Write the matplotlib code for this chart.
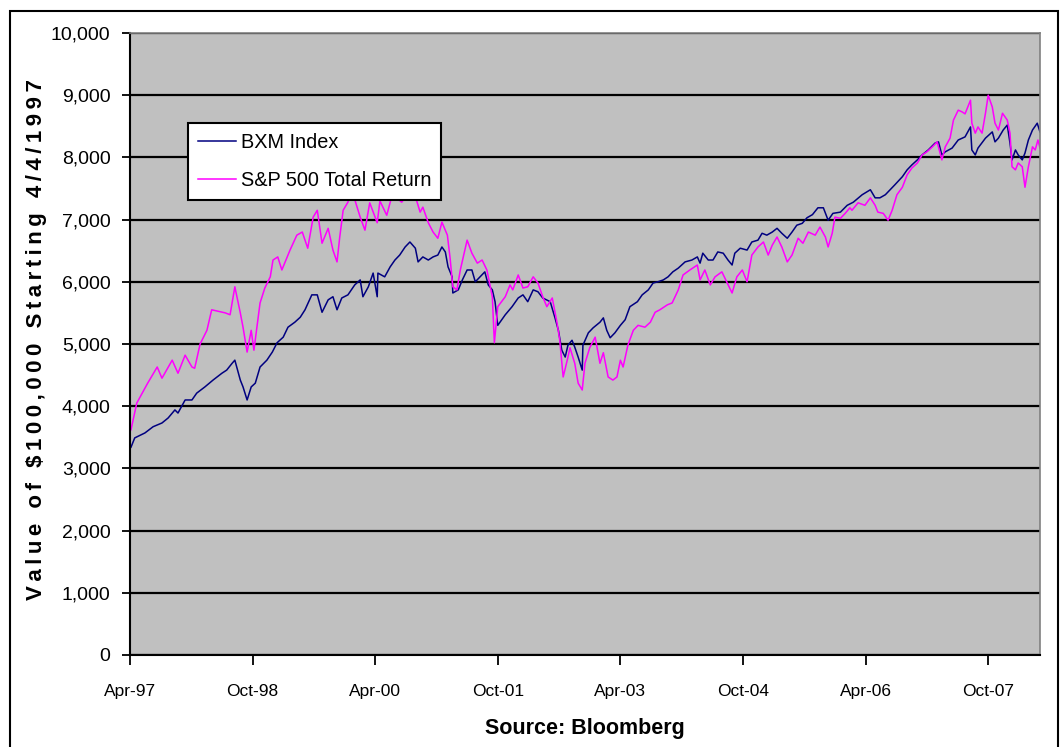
import matplotlib
matplotlib.use("Agg")
import matplotlib.pyplot as plt
from matplotlib.patches import Rectangle
from matplotlib.ticker import FuncFormatter

plt.rcParams['font.family'] = ['Liberation Sans', 'DejaVu Sans']

# months since 4/4/1997, values of $100,000 invested
bxm_months = [0.15, 0.7, 2.2, 3.4, 4.7, 5.6, 6.6, 7.05, 8.1, 9.1,
              9.8, 11.0, 12.2, 13.5, 14.2, 15.0, 15.4, 16.2, 16.6, 17.2,
              17.8, 18.4, 19.1, 20.1, 20.9, 21.6, 22.5, 23.2, 24.2, 25.0,
              25.7, 26.7, 27.5, 28.2, 29.1, 29.8, 30.4, 31.1, 32.0, 33.0,
              33.8, 34.2, 35.0, 35.7, 36.3, 36.4, 37.4, 38.2, 38.9, 39.6,
              40.4, 41.1, 41.9, 42.3, 43.0, 43.8, 44.5, 45.2, 45.8, 46.3,
              46.7, 47.3, 47.4, 48.2, 48.8, 49.5, 50.2, 50.7, 51.4, 52.1,
              52.6, 53.2, 53.6, 54.0, 55.1, 56.1, 57.0, 57.7, 58.4, 59.2,
              59.9, 60.6, 61.7, 62.4, 62.9, 63.4, 63.9, 64.3, 64.9, 65.3,
              65.8, 66.4, 66.5, 67.3, 68.0, 69.0, 69.5, 70.0, 70.5, 71.2,
              72.0, 72.7, 73.4, 74.5, 75.2, 76.1, 76.8, 77.5, 78.3, 79.0,
              79.7, 80.5, 81.5, 82.5, 83.3, 83.7, 84.1, 84.9, 85.6, 86.3,
              87.1, 87.8, 88.4, 88.8, 89.6, 90.6, 91.3, 92.2, 92.8, 93.5,
              94.3, 95.0, 95.7, 96.5, 97.2, 97.9, 98.7, 99.4, 100.2, 101.0,
              101.8, 102.5, 103.2, 104.3, 105.3, 106.2, 107.5, 108.7, 109.4, 110.1,
              110.9, 111.6, 112.3, 113.4, 114.1, 114.8, 115.6, 116.3, 117.2, 118.2,
              118.7, 119.2, 119.7, 120.7, 121.6, 122.6, 123.4, 123.6, 124.1, 124.5,
              125.6, 126.6, 127.0, 127.5, 128.2, 128.8, 129.2, 129.5, 130.0, 130.4,
              131.0, 131.4, 131.9, 132.5, 133.2, 133.6]
bxm_values = [3340, 3490, 3570, 3670, 3730, 3810, 3940, 3890, 4100, 4100,
              4210, 4310, 4420, 4530, 4580, 4690, 4740, 4420, 4310, 4100,
              4310, 4370, 4630, 4740, 4870, 5020, 5110, 5270, 5350, 5430,
              5550, 5790, 5790, 5510, 5710, 5760, 5550, 5740, 5790, 5950,
              6030, 5760, 5920, 6140, 5760, 6140, 6080, 6240, 6350, 6430,
              6560, 6640, 6540, 6320, 6400, 6350, 6400, 6430, 6560, 6480,
              6240, 6080, 5820, 5870, 6030, 6190, 6190, 6000, 6080, 6160,
              5950, 5870, 5680, 5300, 5470, 5600, 5740, 5790, 5680, 5870,
              5840, 5740, 5680, 5420, 5220, 4900, 4790, 4980, 5060, 4950,
              4790, 4580, 4980, 5180, 5260, 5350, 5420, 5220, 5100, 5180,
              5300, 5390, 5600, 5680, 5790, 5870, 5980, 6000, 6030, 6080,
              6160, 6220, 6320, 6350, 6400, 6300, 6460, 6350, 6350, 6480,
              6460, 6350, 6270, 6460, 6540, 6510, 6640, 6670, 6780, 6750,
              6800, 6860, 6780, 6700, 6800, 6910, 6940, 7030, 7080, 7190,
              7190, 6990, 7100, 7120, 7230, 7280, 7400, 7480, 7350, 7350,
              7400, 7480, 7560, 7690, 7800, 7880, 7960, 8040, 8120, 8230,
              8250, 8040, 8090, 8150, 8280, 8330, 8490, 8120, 8040, 8150,
              8310, 8410, 8250, 8310, 8440, 8520, 8230, 7960, 8120, 8040,
              7960, 8070, 8280, 8440, 8550, 8410]

sp_months = [0.15, 1.0, 2.6, 4.0, 4.7, 6.2, 7.05, 8.1, 9.1, 9.5,
             10.3, 11.3, 12.0, 14.0, 14.7, 15.4, 16.2, 16.6, 17.2, 17.8,
             18.2, 19.1, 19.8, 20.6, 21.0, 21.7, 22.3, 23.5, 24.5, 25.3,
             26.1, 26.9, 27.5, 28.2, 29.1, 29.8, 30.4, 30.8, 31.3, 32.0,
             32.5, 33.8, 34.5, 35.2, 36.3, 36.7, 37.7, 38.5, 39.9, 41.0,
             42.1, 42.6, 43.0, 43.8, 44.5, 45.2, 45.8, 46.6, 47.0, 47.4,
             48.0, 48.5, 49.5, 50.2, 51.0, 51.7, 52.4, 53.2, 53.5, 54.0,
             55.1, 55.8, 56.2, 57.0, 57.7, 58.4, 59.2, 59.9, 60.6, 61.2,
             62.0, 62.7, 63.1, 63.6, 64.2, 64.6, 65.3, 65.8, 66.4, 66.8,
             67.5, 68.3, 69.0, 69.5, 70.2, 70.9, 71.5, 72.0, 72.4, 73.1,
             73.9, 74.6, 75.6, 76.4, 77.1, 77.8, 78.9, 79.6, 80.5, 81.2,
             82.2, 83.3, 83.7, 84.4, 85.2, 85.9, 86.9, 87.7, 88.4, 89.1,
             89.9, 90.6, 91.3, 92.2, 93.0, 93.7, 94.3, 95.0, 95.7, 96.5,
             97.2, 98.1, 98.8, 99.6, 100.6, 101.3, 102.1, 102.5, 103.1, 103.5,
             104.3, 105.0, 105.7, 106.0, 106.9, 107.9, 108.7, 109.4, 109.8, 110.6,
             111.3, 111.9, 112.6, 113.4, 114.1, 114.8, 115.6, 116.3, 117.0, 117.8,
             118.5, 119.2, 119.7, 120.4, 120.9, 121.6, 122.2, 122.6, 123.4, 123.6,
             124.1, 124.5, 125.1, 125.6, 126.0, 126.6, 127.0, 127.5, 128.1, 128.8,
             129.2, 129.5, 130.0, 130.4, 131.0, 131.4, 131.9, 132.5, 132.9, 133.3,
             133.6]
sp_values = [3620, 4050, 4370, 4630, 4450, 4740, 4530, 4820, 4630, 4610,
             5000, 5220, 5550, 5500, 5470, 5920, 5500, 5270, 4870, 5220,
             4900, 5660, 5900, 6080, 6350, 6400, 6190, 6510, 6750, 6800,
             6540, 7040, 7150, 6620, 6860, 6510, 6320, 6720, 7150, 7280,
             7500, 7040, 6830, 7270, 6950, 7300, 7070, 7400, 7280, 7450,
             7300, 7120, 7200, 6950, 6800, 6700, 6960, 6750, 6380, 5920,
             5870, 6190, 6670, 6460, 6300, 6350, 6190, 5760, 5020, 5600,
             5760, 5950, 5870, 6110, 5900, 5920, 6080, 5980, 5760, 5600,
             5740, 5340, 5060, 4470, 4740, 4940, 4690, 4370, 4260, 4690,
             4940, 5110, 4690, 4860, 4470, 4420, 4470, 4740, 4630, 4980,
             5220, 5300, 5270, 5350, 5510, 5550, 5630, 5660, 5870, 6110,
             6190, 6270, 6030, 6190, 5950, 6080, 6160, 5980, 5820, 6080,
             6190, 6000, 6430, 6560, 6640, 6430, 6590, 6720, 6560, 6320,
             6430, 6700, 6620, 6800, 6750, 6880, 6720, 6560, 6780, 7040,
             7020, 7100, 7190, 7150, 7270, 7230, 7350, 7230, 7120, 7100,
             6990, 7150, 7400, 7520, 7720, 7830, 7910, 8040, 8090, 8170,
             8250, 7960, 8170, 8310, 8600, 8760, 8730, 8700, 8920, 8550,
             8390, 8490, 8390, 8710, 9000, 8810, 8550, 8440, 8710, 8600,
             8390, 7850, 7800, 7910, 7850, 7520, 7850, 8170, 8120, 8280,
             8150]

tick_months = [0, 18, 36, 54, 72, 90, 108, 126]
tick_labels = ['Apr-97', 'Oct-98', 'Apr-00', 'Oct-01', 'Apr-03', 'Oct-04', 'Apr-06', 'Oct-07']

assert len(bxm_months) == len(bxm_values)
assert len(sp_months) == len(sp_values)

fig = plt.figure(figsize=(10.6, 7.47), dpi=100)
ax = fig.add_axes([0.1226, 0.1232, 0.8585, 0.8326])
ax.set_facecolor('#C0C0C0')

ax.plot(bxm_months, bxm_values, color='#000080', lw=1.1, label='BXM Index')
ax.plot(sp_months, sp_values, color='#FF00FF', lw=1.1, label='S&P 500 Total Return')

ax.set_xlim(0, 133.6)
ax.set_ylim(0, 10000)
ax.set_yticks(range(0, 10001, 1000))
ax.yaxis.set_major_formatter(FuncFormatter(lambda v, p: '{:,.0f}'.format(v)))
ax.set_xticks(tick_months)
ax.set_xticklabels(tick_labels)
ax.grid(axis='y', color='black', lw=1.6)
ax.set_axisbelow(True)

ax.tick_params(axis='y', direction='out', length=6, width=1.3, pad=8, labelsize=14)
ax.tick_params(axis='x', direction='out', length=7, width=1.3, pad=14, labelsize=12.5)
for s in ['left', 'bottom']:
    ax.spines[s].set_color('black')
    ax.spines[s].set_linewidth(1.5)
for s in ['top', 'right']:
    ax.spines[s].set_color('#808080')
    ax.spines[s].set_linewidth(1.2)

leg = ax.legend(loc='upper left', bbox_to_anchor=(0.0637, 0.855), borderaxespad=0,
                fontsize=14.3, fancybox=False, framealpha=1, edgecolor='black',
                handlelength=1.9, handletextpad=0.25, labelspacing=0.95,
                borderpad=0.5)
leg.get_frame().set_linewidth(1.5)

ylab = '\u2009'.join(list('Value of $100,000 Starting 4/4/1997'))
fig.text(0.034, 0.545, ylab, rotation=90, ha='center', va='center',
         fontsize=16, fontweight='bold')
fig.text(0.552, 0.025, 'Source: Bloomberg', ha='center', va='center',
         fontsize=15.5, fontweight='bold')

# outer chart border
fig.patches.append(Rectangle((10 / 1060, -0.05), 1048 / 1060, (736 / 747) + 0.05,
                             transform=fig.transFigure, fill=False,
                             edgecolor='black', lw=1.5))

fig.savefig('out.png', dpi=100)
